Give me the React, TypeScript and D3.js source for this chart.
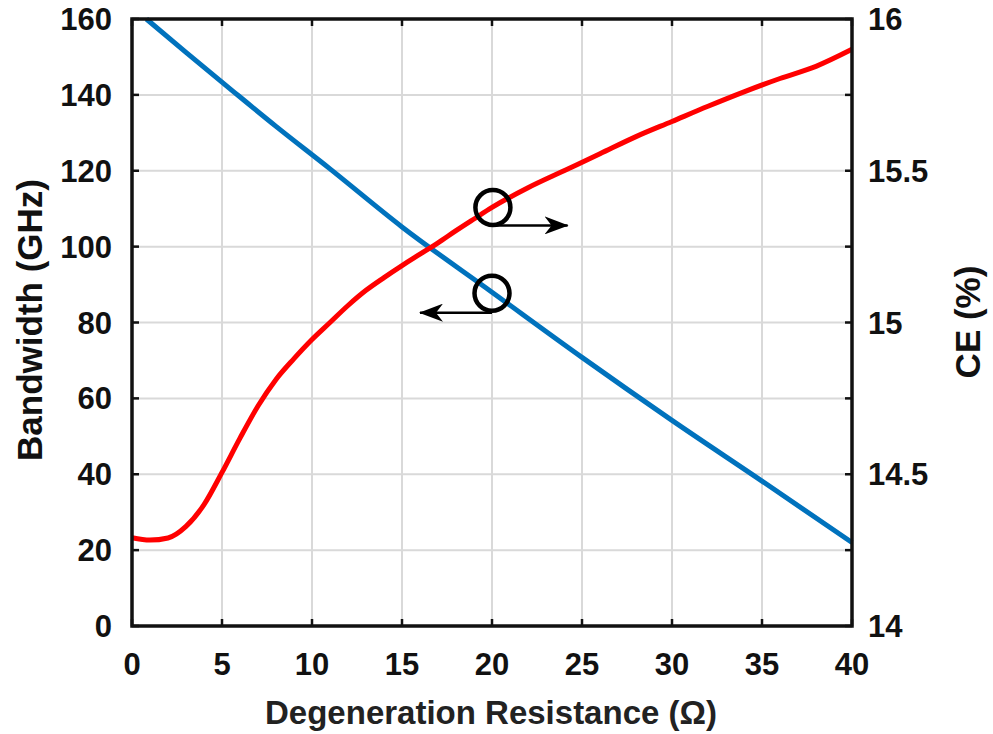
import React from "react";
import * as d3 from "d3";

const W = 993;
const H = 734;

const resistanceBW = [0.8, 3, 5.6, 8, 11, 15, 20, 25, 30, 35, 40];
const bandwidth = [160, 151.2, 141, 131.7, 120.5, 105.2, 88, 70.8, 54.2, 38.2, 22];

const resistanceCE = [0, 1, 2, 3, 4, 5, 6, 7, 8, 9, 10, 11, 12, 13, 14, 15, 16, 17, 18, 19, 20, 22, 24, 26, 28, 30, 32, 34, 36, 38, 40];
const ce = [14.291, 14.283, 14.29, 14.328, 14.4, 14.506, 14.619, 14.725, 14.8125, 14.881, 14.944, 15.0, 15.056, 15.106, 15.148, 15.1875, 15.225, 15.2625, 15.3025, 15.341, 15.379, 15.444, 15.5, 15.556, 15.6125, 15.6625, 15.7125, 15.76, 15.804, 15.844, 15.9];

const xTicks = [0, 5, 10, 15, 20, 25, 30, 35, 40];
const yLeftTicks = [0, 20, 40, 60, 80, 100, 120, 140, 160];
const yRightTicks = [14, 14.5, 15, 15.5, 16];
const yRightMinor = [14, 14.25, 14.5, 14.75, 15, 15.25, 15.5, 15.75, 16];

const FONT = "'Liberation Sans', Arial, Helvetica, sans-serif";

export default function App() {
  const left = 132, right = 852, top = 19, bottom = 626;
  const x = d3.scaleLinear().domain([0, 40]).range([left, right]);
  const yL = d3.scaleLinear().domain([0, 160]).range([bottom, top]);
  const yR = d3.scaleLinear().domain([14, 16]).range([bottom, top]);

  const blueLine = d3
    .line<number>()
    .x((_, i) => x(resistanceBW[i]))
    .y((d) => yL(d))
    .curve(d3.curveMonotoneX)(bandwidth) as string;

  const redLine = d3
    .line<number>()
    .x((_, i) => x(resistanceCE[i]))
    .y((d) => yR(d))
    .curve(d3.curveMonotoneX)(ce) as string;

  const gridColor = "#d9d9d9";
  const tickLen = 7;
  const fs = 31;

  const c1 = { x: x(20.05), y: yL(110.3) };
  const c2 = { x: x(20.0), y: yL(87.7) };
  const a1y = yL(105.6);
  const a2y = yL(82.6);
  const a1end = x(24.2);
  const a2end = x(16.0);

  return (
    <svg width={W} height={H} style={{ position: "absolute", left: 0, top: 0, background: "#fff" }}>
      <defs>
        <marker id="arr" viewBox="0 0 24 18" refX="23" refY="9" markerWidth="24" markerHeight="18" markerUnits="userSpaceOnUse" orient="auto">
          <path d="M0,0 L24,9 L0,18 L7,9 Z" fill="#000" />
        </marker>
      </defs>
      {xTicks.map((t) => (
        <line key={"gx" + t} x1={x(t)} x2={x(t)} y1={top} y2={bottom} stroke={gridColor} strokeWidth={2} />
      ))}
      {yLeftTicks.map((t) => (
        <line key={"gy" + t} x1={left} x2={right} y1={yL(t)} y2={yL(t)} stroke={gridColor} strokeWidth={2} />
      ))}

      <path d={blueLine} fill="none" stroke="#0072BD" strokeWidth={5} />
      <path d={redLine} fill="none" stroke="#FF0000" strokeWidth={5} />

      <circle cx={c1.x} cy={c1.y} r={17.5} fill="none" stroke="#000" strokeWidth={4.5} />
      <circle cx={c2.x} cy={c2.y} r={17.5} fill="none" stroke="#000" strokeWidth={4.5} />
      <line x1={c1.x} x2={a1end} y1={a1y} y2={a1y} stroke="#000" strokeWidth={2.5} markerEnd="url(#arr)" />
      <line x1={c2.x} x2={a2end} y1={a2y} y2={a2y} stroke="#000" strokeWidth={2.5} markerEnd="url(#arr)" />

      <rect x={left} y={top} width={right - left} height={bottom - top} fill="none" stroke="#111" strokeWidth={3.5} />

      {xTicks.map((t) => (
        <g key={"tx" + t}>
          <line x1={x(t)} x2={x(t)} y1={bottom} y2={bottom - tickLen} stroke="#111" strokeWidth={2.5} />
          <line x1={x(t)} x2={x(t)} y1={top} y2={top + tickLen} stroke="#111" strokeWidth={2.5} />
          <text x={x(t)} y={675} textAnchor="middle" fontFamily={FONT} fontSize={fs} fontWeight="bold" fill="#111">
            {t}
          </text>
        </g>
      ))}
      {yLeftTicks.map((t) => (
        <g key={"tyl" + t}>
          <line x1={left} x2={left + tickLen} y1={yL(t)} y2={yL(t)} stroke="#111" strokeWidth={2.5} />
          <text x={112} y={yL(t) + 11} textAnchor="end" fontFamily={FONT} fontSize={fs} fontWeight="bold" fill="#111">
            {t}
          </text>
        </g>
      ))}
      {yRightMinor.map((t) => (
        <line key={"tyr" + t} x1={right} x2={right - tickLen} y1={yR(t)} y2={yR(t)} stroke="#111" strokeWidth={2.5} />
      ))}
      {yRightTicks.map((t) => (
        <text key={"tyrl" + t} x={868} y={yR(t) + 11} textAnchor="start" fontFamily={FONT} fontSize={fs} fontWeight="bold" fill="#111">
          {t}
        </text>
      ))}

      <text x={491} y={724} textAnchor="middle" fontFamily={FONT} fontSize={33} fontWeight="bold" fill="#222">
        Degeneration Resistance (Ω)
      </text>
      <text transform={`translate(42,320) rotate(-90)`} textAnchor="middle" fontFamily={FONT} fontSize={35} fontWeight="bold" fill="#111">
        Bandwidth (GHz)
      </text>
      <text transform={`translate(980,322) rotate(-90)`} textAnchor="middle" fontFamily={FONT} fontSize={35} fontWeight="bold" fill="#111">
        CE (%)
      </text>
    </svg>
  );
}
